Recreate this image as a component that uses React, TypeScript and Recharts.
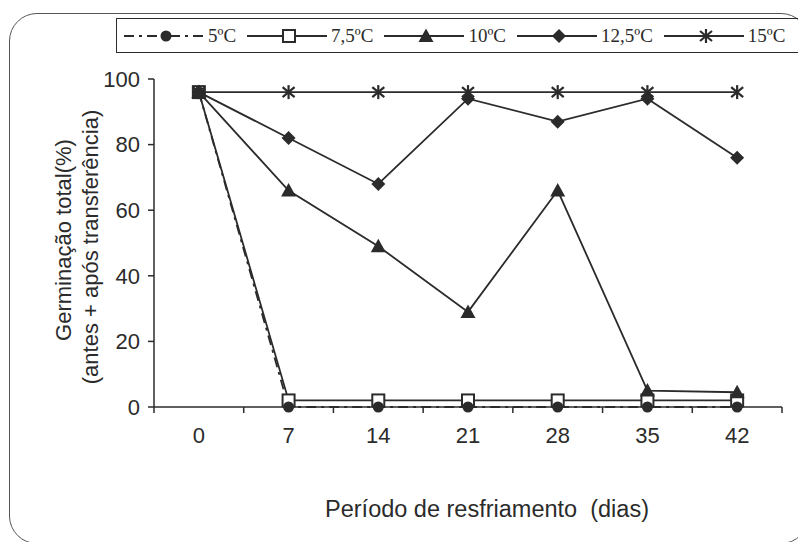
import { LineChart, Line, XAxis, YAxis } from 'recharts';

const days = [0, 7, 14, 21, 28, 35, 42];
const t5 = [96, 0, 0, 0, 0, 0, 0];
const t75 = [96, 2, 2, 2, 2, 2, 2];
const t10 = [96, 66, 49, 29, 66, 5, 4.5];
const t125 = [96, 82, 68, 94, 87, 94, 76];
const t15 = [96, 96, 96, 96, 96, 96, 96];
const yTicks = [0, 20, 40, 60, 80, 100];
const xDomain: [number, number] = [-3.5, 45.5];
const halfStep = 3.5;

const data = days.map((d, i) => ({
  day: d,
  t5: t5[i],
  t75: t75[i],
  t10: t10[i],
  t125: t125[i],
  t15: t15[i],
}));

const INK = '#2b2b2b';
const SANS = '"Liberation Sans", Arial, sans-serif';
const SERIF = '"Liberation Serif", "Times New Roman", serif';
const TICK_SIZE = 6;
const TICK_MARGIN = 14;

type Kind = 'circle' | 'square' | 'triangle' | 'diamond' | 'star';

const Marker = ({ kind, cx, cy }: { kind: Kind; cx: number; cy: number }) => {
  switch (kind) {
    case 'circle':
      return <circle cx={cx} cy={cy} r={5.5} fill={INK} />;
    case 'square':
      return <rect x={cx - 6} y={cy - 6} width={12} height={12} fill="#fff" stroke={INK} strokeWidth={2} />;
    case 'triangle':
      return <polygon points={`${cx},${cy - 7.5} ${cx + 7.5},${cy + 6} ${cx - 7.5},${cy + 6}`} fill={INK} />;
    case 'diamond':
      return <polygon points={`${cx},${cy - 7} ${cx + 7},${cy} ${cx},${cy + 7} ${cx - 7},${cy}`} fill={INK} />;
    default:
      return (
        <g stroke={INK} strokeWidth={2.2}>
          <line x1={cx} y1={cy - 7} x2={cx} y2={cy + 7} />
          <line x1={cx - 6} y1={cy - 5} x2={cx + 6} y2={cy + 5} />
          <line x1={cx - 6} y1={cy + 5} x2={cx + 6} y2={cy - 5} />
        </g>
      );
  }
};

const series: { key: string; name: string; kind: Kind; dash?: string }[] = [
  { key: 't5', name: '5ºC', kind: 'circle', dash: '10 5 3 5' },
  { key: 't75', name: '7,5ºC', kind: 'square' },
  { key: 't10', name: '10ºC', kind: 'triangle' },
  { key: 't125', name: '12,5ºC', kind: 'diamond' },
  { key: 't15', name: '15ºC', kind: 'star' },
];

// draw order: hollow squares first so the filled markers sit over them
const drawOrder = ['t75', 't5', 't10', 't125', 't15'];

const makeDot = (kind: Kind) => (p: any) => (
  <g key={`${kind}-${p.index}`}>
    <Marker kind={kind} cx={p.cx} cy={p.cy} />
  </g>
);

// label at the category centre, tick marks at the band edges (as in the scan)
const DayTick = (p: any) => {
  const axisW = Number(p.width) || 628;
  const half = (halfStep * axisW) / (xDomain[1] - xDomain[0]);
  const axisY = p.y - TICK_SIZE - TICK_MARGIN;
  const edges = p.index === 0 ? [p.x - half, p.x + half] : [p.x + half];
  return (
    <g>
      {edges.map((ex, i) => (
        <line key={i} x1={ex} x2={ex} y1={axisY} y2={axisY + TICK_SIZE} stroke={INK} strokeWidth={1.5} />
      ))}
      <text x={p.x} y={p.y} dy="0.71em" textAnchor="middle" fontFamily={SANS} fontSize={22} fill={INK}>
        {p.payload.value}
      </text>
    </g>
  );
};

const LegendBox = () => (
  <div
    style={{
      position: 'absolute',
      left: 116,
      top: 18,
      border: `1.5px solid ${INK}`,
      height: 35,
      width: 684,
      display: 'flex',
      alignItems: 'center',
      paddingLeft: 7,
      boxSizing: 'border-box',
      fontFamily: SERIF,
      fontSize: 19,
      color: INK,
    }}
  >
    {series.map((s) => (
      <div key={s.key} style={{ display: 'flex', alignItems: 'center', marginRight: 11 }}>
        <svg width={80} height={20}>
          <line x1={0} y1={10} x2={80} y2={10} stroke={INK} strokeWidth={1.8} strokeDasharray={s.dash} />
          <Marker kind={s.kind} cx={42} cy={10} />
        </svg>
        <span style={{ marginLeft: 4 }}>{s.name}</span>
      </div>
    ))}
  </div>
);

export default function App() {
  return (
    <div style={{ position: 'absolute', left: 0, top: 0, width: 798, height: 542, overflow: 'hidden', background: '#fff' }}>
      <div
        style={{
          position: 'absolute',
          left: 9,
          top: 13,
          width: 800,
          height: 531,
          border: '1.5px solid #555',
          borderRadius: 28,
          boxSizing: 'border-box',
        }}
      />
      <LineChart
        width={798}
        height={542}
        data={data}
        margin={{ top: 79, right: 16, left: 94, bottom: 87 }}
        style={{ position: 'absolute', left: 0, top: 0 }}
      >
        <XAxis
          dataKey="day"
          type="number"
          domain={xDomain}
          ticks={days}
          interval={0}
          axisLine={{ stroke: INK, strokeWidth: 1.5 }}
          tickLine={false}
          tickSize={TICK_SIZE}
          tickMargin={TICK_MARGIN}
          height={48}
          tick={DayTick}
          label={{
            content: () => (
              <text
                x={487}
                y={509}
                textAnchor="middle"
                dominantBaseline="central"
                style={{ whiteSpace: 'pre', fontFamily: SANS, fontSize: 23.5, fill: INK }}
              >
                {'Período de resfriamento  (dias)'}
              </text>
            ),
          }}
        />
        <YAxis
          domain={[0, 100]}
          ticks={yTicks}
          width={60}
          tickSize={6}
          tickMargin={8}
          axisLine={{ stroke: INK, strokeWidth: 1.5 }}
          tickLine={{ stroke: INK, strokeWidth: 1.5 }}
          tick={{ fontFamily: SANS, fontSize: 22, fill: INK }}
          label={{
            content: () => (
              <g style={{ fontFamily: SANS, fontSize: 22, fill: INK }}>
                <text transform="translate(63,240) rotate(-90)" textAnchor="middle" dominantBaseline="central">
                  Germinação total(%)
                </text>
                <text transform="translate(90,247) rotate(-90)" textAnchor="middle" dominantBaseline="central">
                  (antes + após transferência)
                </text>
              </g>
            ),
          }}
        />
        {drawOrder.map((k) => {
          const s = series.find((x) => x.key === k)!;
          return (
            <Line
              key={s.key}
              dataKey={s.key}
              name={s.name}
              stroke={INK}
              strokeWidth={1.8}
              strokeDasharray={s.dash}
              dot={makeDot(s.kind)}
              activeDot={false}
              isAnimationActive={false}
            />
          );
        })}
      </LineChart>
      <LegendBox />
    </div>
  );
}
